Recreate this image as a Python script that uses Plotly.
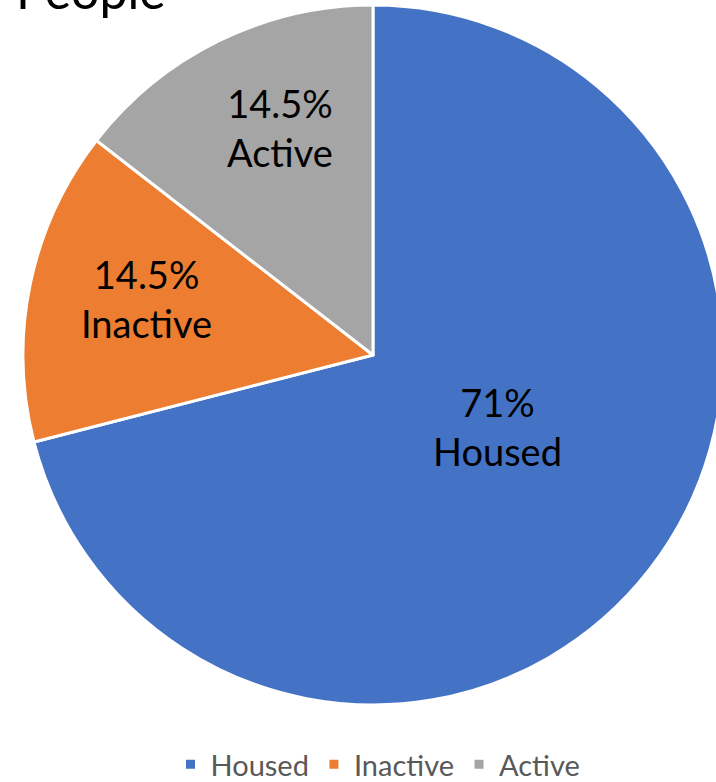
import math
import plotly.graph_objects as go

categories = ["Housed", "Inactive", "Active"]
values = [71, 14.5, 14.5]
colors = ["#4472C4", "#ED7D31", "#A5A5A5"]
title_text = "People"

W, H = 746, 790
FONT = "Lato, Open Sans, sans-serif"

# pie geometry (pixels, from top-left of the figure)
CX, CY, R = 373, 355, 350
dom_x = [(CX - R) / W, (CX + R) / W]
dom_y = [1 - (CY + R) / H, 1 - (CY - R) / H]

fig = go.Figure(go.Pie(
    labels=categories,
    values=values,
    sort=False,
    direction="clockwise",
    rotation=0,
    marker=dict(colors=colors, line=dict(color="white", width=3)),
    textinfo="none",
    domain=dict(x=dom_x, y=dom_y),
    hoverinfo="label+percent",
))

# data labels placed near each slice's mid-angle ("best fit" style)
label_radius = [0.41, 0.668, 0.703]
label_angle_shift = [-7.7, 2.2, 3.9]  # degrees
total = sum(values)
cum = 0.0
for lab, v, rf, da in zip(categories, values, label_radius, label_angle_shift):
    mid = (cum + v / 2) / total * 2 * math.pi + math.radians(da)
    cum += v
    px = CX + rf * R * math.sin(mid)
    py = CY - rf * R * math.cos(mid)
    fig.add_annotation(
        text=f"{v:g}%<br>{lab}", xref="paper", yref="paper",
        x=px / W, y=1 - py / H, xanchor="center", yanchor="middle",
        showarrow=False, font=dict(family=FONT, size=38, color="black"),
    )

fig.add_annotation(
    text=title_text, xref="paper", yref="paper", x=14 / W, y=1 + 10 / H,
    xanchor="left", yanchor="middle", showarrow=False,
    font=dict(family=FONT, size=50, color="black"),
)

fig.update_layout(
    width=W, height=H,
    margin=dict(l=0, r=0, t=0, b=0),
    paper_bgcolor="white",
    showlegend=True,
    legend=dict(orientation="h", x=378 / W, xanchor="center",
                y=0, yanchor="bottom",
                font=dict(family=FONT, size=29, color="#595959")),
)

fig.write_html(
    "out.html",
    config={"displayModeBar": False},
    post_script="document.body.style.margin='0';"
                "document.body.style.overflow='hidden';"
                "document.documentElement.style.overflow='hidden';",
)
